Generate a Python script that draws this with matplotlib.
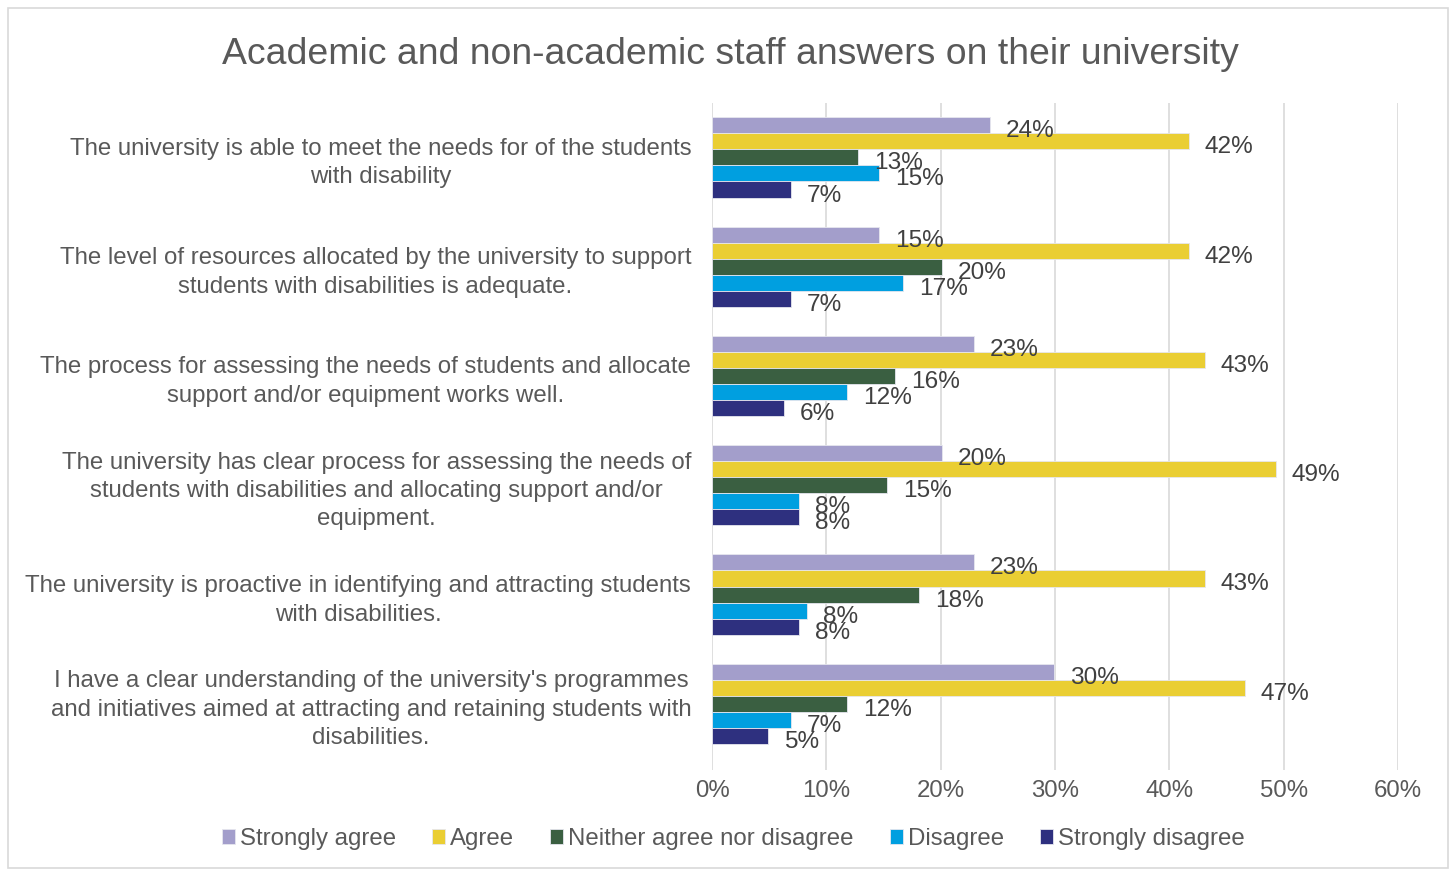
import numpy as np
import matplotlib.pyplot as plt
from matplotlib.patches import Rectangle

plt.rcParams['font.family'] = ['Liberation Sans', 'DejaVu Sans']

categories = [
    "The university is able to meet the needs for of the students\nwith disability",
    "The level of resources allocated by the university to support\nstudents with disabilities is adequate.",
    "The process for assessing the needs of students and allocate\nsupport and/or equipment works well.",
    "The university has clear process for assessing the needs of\nstudents with disabilities and allocating support and/or\nequipment.",
    "The university is proactive in identifying and attracting students\nwith disabilities.",
    "I have a clear understanding of the university's programmes\nand initiatives aimed at attracting and retaining students with\ndisabilities.",
]
series_names = ["Strongly agree", "Agree", "Neither agree nor disagree",
                "Disagree", "Strongly disagree"]

strongly_agree = [0.243, 0.146, 0.229, 0.201, 0.229, 0.299]
agree = [0.417, 0.417, 0.431, 0.493, 0.431, 0.466]
neither = [0.128, 0.201, 0.160, 0.153, 0.181, 0.118]
disagree = [0.146, 0.167, 0.118, 0.076, 0.083, 0.069]
strongly_disagree = [0.069, 0.069, 0.063, 0.076, 0.076, 0.049]

colors = ["#A39ECB", "#EACE33", "#3A5F41", "#009FE0", "#2E307F"]
values = [strongly_agree, agree, neither, disagree, strongly_disagree]

fig = plt.figure(figsize=(14.52, 8.71), dpi=100)
ax = fig.add_axes([0.4904, 0.116, 0.4724, 0.7654])

# outer chart frame
fig.patches.append(Rectangle((8 / 1452, 3 / 871), 1440 / 1452, 860 / 871,
                             transform=fig.transFigure, fill=False,
                             edgecolor="#D9D9D9", linewidth=1.2))

y = np.arange(len(categories))
h = 0.147
for i, (name, vals, col) in enumerate(zip(series_names, values, colors)):
    pos = y + (i - 2) * h
    ax.barh(pos, vals, height=h, color=col, edgecolor="#E6E6EE",
            linewidth=0.6, label=name, zorder=3)
    for p, v in zip(pos, vals):
        ax.annotate("{:.0f}%".format(v * 100), (v, p),
                    xytext=(16, -6), textcoords="offset pixels",
                    ha="left", va="center", fontsize=17.6,
                    color="#404040", zorder=4)

ax.set_xlim(0, 0.6)
ax.set_ylim(5.605, -0.495)
ax.set_xticks(np.arange(0, 0.61, 0.1))
ax.set_xticklabels(["{:.0f}%".format(t * 100) for t in np.arange(0, 0.61, 0.1)])
ax.set_yticks(y)
ax.set_yticklabels(categories, ha="right", multialignment="center", linespacing=1.38)
ax.tick_params(axis="y", length=0, pad=15, labelsize=17.3, labelcolor="#595959")
ax.tick_params(axis="x", length=0, pad=7, labelsize=17.3, labelcolor="#595959")
ax.grid(axis="x", color="#D9D9D9", linewidth=1.2, zorder=0)
for s in ax.spines.values():
    s.set_visible(False)

fig.text(0.503, 1 - 54 / 871, "Academic and non-academic staff answers on their university",
         ha="center", va="center", fontsize=26.9, color="#595959")

fig.legend(loc="center", bbox_to_anchor=(0.505, 1 - 839 / 871), ncol=5,
           frameon=False, fontsize=17.3, handlelength=0.55, handleheight=0.55,
           handletextpad=0.2, columnspacing=1.5, labelcolor="#595959")

fig.savefig("out.png", dpi=100)
